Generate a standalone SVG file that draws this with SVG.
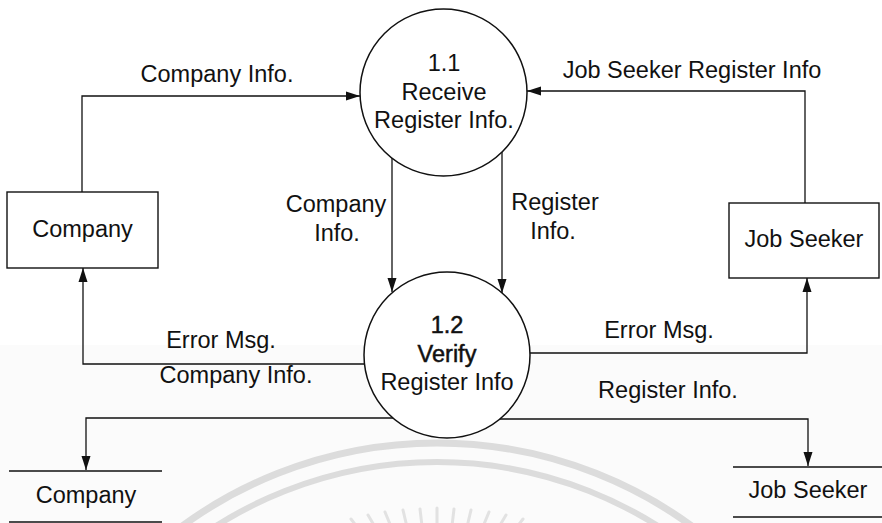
<svg xmlns="http://www.w3.org/2000/svg" width="882" height="523" viewBox="0 0 882 523">
<style>
text{font-family:"Liberation Sans",Arial,sans-serif;font-size:23.5px;fill:#111;text-anchor:middle}
.box{fill:#fff;stroke:#111;stroke-width:1.4}
.proc{fill:#fff;stroke:#111;stroke-width:1.5}
.flow{fill:none;stroke:#111;stroke-width:1.3;marker-end:url(#arr)}
.store{stroke:#111;stroke-width:1.4}
.bold{stroke:#111;stroke-width:0.5}
.wm{fill:none;stroke:#dcdcdc}
</style>
<defs>
<marker id="arr" markerUnits="userSpaceOnUse" markerWidth="14" markerHeight="10" refX="14" refY="5" orient="auto">
<path d="M0,0.5 L14,5 L0,9.5 z" fill="#111"/>
</marker>
</defs>
<rect x="0" y="0" width="882" height="523" fill="#fff"/>
<rect x="0" y="345" width="882" height="178" fill="#fbfbfb"/>
<g id="watermark">
<circle class="wm" cx="437" cy="875" r="432" stroke-width="7"/>
<circle class="wm" cx="437" cy="875" r="413" stroke-width="6"/>
<g stroke="#e2e2e2" stroke-width="3" stroke-linecap="round">
<line x1="437" y1="525" x2="437" y2="508"/>
<line x1="452" y1="526" x2="454" y2="509"/>
<line x1="422" y1="526" x2="420" y2="509"/>
<line x1="467" y1="527" x2="471" y2="510"/>
<line x1="407" y1="527" x2="403" y2="510"/>
<line x1="482" y1="529" x2="489" y2="512"/>
<line x1="392" y1="529" x2="385" y2="512"/>
<line x1="496" y1="532" x2="506" y2="515"/>
<line x1="378" y1="532" x2="368" y2="515"/>
<line x1="510" y1="536" x2="523" y2="519"/>
<line x1="364" y1="536" x2="351" y2="519"/>
</g>
</g>
<g id="connectors">
<path class="flow" d="M82,192 V96 H360"/>
<path class="flow" d="M805,203 V91 H527"/>
<path class="flow" d="M392,158 V292"/>
<path class="flow" d="M502,152 V293"/>
<path class="flow" d="M364,364 H83 V268"/>
<path class="flow" d="M393,418 H86 V470"/>
<path class="flow" d="M530,353 H807 V278"/>
<path class="flow" d="M500,419 H808 V466"/>
<text x="217" y="82">Company Info.</text>
<text x="692" y="78">Job Seeker Register Info</text>
<text x="336" y="212">Company</text>
<text x="337" y="241">Info.</text>
<text x="555" y="210">Register</text>
<text x="553" y="239">Info.</text>
<text x="221" y="348">Error Msg.</text>
<text x="236" y="383">Company Info.</text>
<text x="659" y="338">Error Msg.</text>
<text x="668" y="398">Register Info.</text>
</g>
<g id="company">
<rect class="box" x="7" y="192" width="151" height="76"/>
<text x="82.5" y="237">Company</text>
</g>
<g id="jobseeker">
<rect class="box" x="729" y="203" width="150" height="75"/>
<text x="804" y="247">Job Seeker</text>
</g>
<g id="p1_1">
<circle class="proc" cx="443.5" cy="92.5" r="83.5"/>
<text x="444" y="71">1.1</text>
<text x="444" y="100">Receive</text>
<text x="444" y="128">Register Info.</text>
</g>
<g id="p1_2">
<circle class="proc" cx="447" cy="355" r="83"/>
<text class="bold" x="447" y="333">1.2</text>
<text class="bold" x="447" y="362">Verify</text>
<text x="447" y="390">Register Info</text>
</g>
<g id="store_company">
<line class="store" x1="9" y1="471" x2="162" y2="471"/>
<line class="store" x1="9" y1="522" x2="162" y2="522"/>
<text x="86" y="503">Company</text>
</g>
<g id="store_jobseeker">
<line class="store" x1="733" y1="467" x2="882" y2="467"/>
<line class="store" x1="733" y1="517" x2="882" y2="517"/>
<text x="808" y="498">Job Seeker</text>
</g>
</svg>
